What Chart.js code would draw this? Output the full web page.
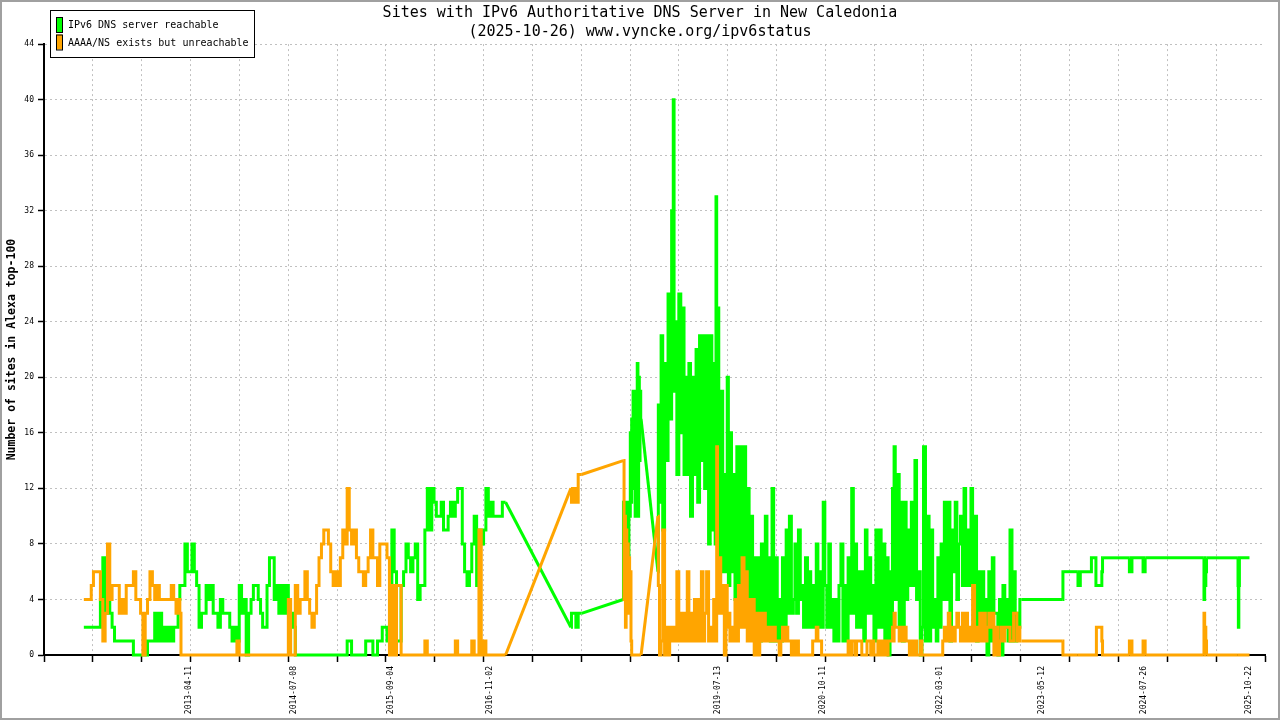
<!DOCTYPE html>
<html>
<head>
<meta charset="utf-8">
<title>Sites with IPv6 Authoritative DNS Server in New Caledonia</title>
<script src="https://cdn.jsdelivr.net/npm/chart.js@4.4.1/dist/chart.umd.min.js"></script>
<style>
  html, body { margin: 0; padding: 0; background: #fff; overflow: hidden; }
  canvas { display: block; }
</style>
</head>
<body>
<canvas id="c" width="1280" height="720"></canvas>
<script>
const MONO = '"DejaVu Sans Mono", "Liberation Mono", monospace';

const titleLines = [
  'Sites with IPv6 Authoritative DNS Server in New Caledonia',
  '(2025-10-26) www.vyncke.org/ipv6status'
];
const seriesNames = ['IPv6 DNS server reachable', 'AAAA/NS exists but unreachable'];
const yAxisTitle = 'Number of sites in Alexa top-100';
const xTickLabels = ['2013-04-11', '2014-07-08', '2015-09-04', '2016-11-02', '2019-07-13',
                     '2020-10-11', '2022-03-01', '2023-05-12', '2024-07-26', '2025-10-22'];
const yTicks = [0, 4, 8, 12, 16, 20, 24, 28, 32, 36, 40, 44];
const xRange = ['2011-07-27', '2026-01-01'];

const dates = [
  '2012-01-15','2012-01-21','2012-02-01','2012-02-11','2012-02-21','2012-03-01','2012-03-11','2012-03-21','2012-04-01','2012-04-11','2012-04-21','2012-05-01','2012-05-11','2012-05-21','2012-06-01','2012-06-11','2012-06-21',
  '2012-07-01','2012-07-11','2012-07-21','2012-08-01','2012-08-11','2012-08-21','2012-09-01','2012-09-11','2012-09-21','2012-10-01','2012-10-11','2012-10-21','2012-11-01','2012-11-11','2012-11-21','2012-12-01','2012-12-11','2012-12-21',
  '2013-01-01','2013-01-11','2013-01-21','2013-02-01','2013-02-11','2013-02-21','2013-03-01','2013-03-08','2013-03-11','2013-03-21','2013-04-01','2013-04-11','2013-04-21','2013-05-01','2013-05-11','2013-05-21','2013-06-01','2013-06-11','2013-06-21',
  '2013-07-01','2013-07-11','2013-07-21','2013-08-01','2013-08-11','2013-08-21','2013-09-01','2013-09-11','2013-09-21','2013-10-01','2013-10-11','2013-10-21','2013-11-01','2013-11-11','2013-11-21','2013-12-01','2013-12-11','2013-12-21',
  '2014-01-01','2014-01-11','2014-01-21','2014-02-01','2014-02-11','2014-02-21','2014-03-01','2014-03-11','2014-03-21','2014-04-01','2014-04-11','2014-04-21','2014-05-01','2014-05-11','2014-05-21','2014-06-01','2014-06-11','2014-06-21',
  '2014-07-01','2014-07-11','2014-07-21','2014-08-01','2014-08-11','2014-08-21','2014-09-01','2014-09-11','2014-09-21','2014-10-01','2014-10-11','2014-10-21','2014-11-01','2014-11-11','2014-11-21','2014-12-01','2014-12-11','2014-12-21',
  '2015-01-01','2015-01-11','2015-01-21','2015-02-01','2015-02-11','2015-02-21','2015-03-01','2015-03-11','2015-03-21','2015-04-01','2015-04-11','2015-04-21','2015-05-01','2015-05-11','2015-05-21','2015-06-01','2015-06-11','2015-06-21',
  '2015-07-01','2015-07-11','2015-07-21','2015-08-01','2015-08-11','2015-08-21','2015-09-01','2015-09-11','2015-09-21','2015-10-01','2015-10-11','2015-10-21','2015-11-01','2015-11-11','2015-11-21','2015-12-01','2015-12-11','2015-12-21',
  '2016-01-01','2016-01-11','2016-01-21','2016-02-01','2016-02-11','2016-02-21','2016-03-01','2016-03-11','2016-03-21','2016-04-01','2016-04-11','2016-04-21','2016-05-01','2016-05-11','2016-05-21','2016-06-01','2016-06-11','2016-06-21',
  '2016-07-01','2016-07-11','2016-07-21','2016-08-01','2016-08-11','2016-08-21','2016-09-01','2016-09-11','2016-09-21','2016-10-01','2016-10-11','2016-10-21','2016-11-01','2016-11-11','2016-11-21','2016-12-01','2016-12-11','2016-12-21','2016-12-31','2017-01-09',
  '2017-10-18','2017-10-23','2017-10-29','2017-11-05','2017-11-12','2017-11-17','2017-11-20','2017-12-03','2018-06-01',
  '2018-06-03','2018-06-06','2018-06-09','2018-06-12','2018-06-15','2018-06-18','2018-06-21','2018-06-24','2018-06-27','2018-06-30','2018-07-03','2018-07-06','2018-07-09','2018-07-12','2018-07-15','2018-07-18','2018-07-21','2018-07-24','2018-07-27','2018-07-30','2018-08-02','2018-08-05','2018-08-08','2018-08-11','2018-08-14','2018-08-17',
  '2018-10-29','2018-11-01','2018-11-08','2018-11-15','2018-11-22','2018-12-01','2018-12-08','2018-12-15','2018-12-22',
  '2019-01-01','2019-01-05','2019-01-08','2019-01-15','2019-01-22','2019-02-01','2019-02-08','2019-02-15','2019-02-22','2019-03-01','2019-03-08','2019-03-15','2019-03-22','2019-04-01','2019-04-08','2019-04-15','2019-04-22','2019-05-01','2019-05-08','2019-05-15','2019-05-22','2019-06-01','2019-06-08','2019-06-15','2019-06-22',
  '2019-07-01','2019-07-05','2019-07-08','2019-07-11','2019-07-15','2019-07-22','2019-08-01','2019-08-08','2019-08-15','2019-08-22','2019-08-26','2019-09-01','2019-09-08','2019-09-15','2019-09-22','2019-10-01','2019-10-08','2019-10-15','2019-10-22','2019-11-01','2019-11-08','2019-11-15','2019-11-22','2019-12-01','2019-12-08','2019-12-15','2019-12-22',
  '2020-01-01','2020-01-08','2020-01-15','2020-01-22','2020-02-01','2020-02-08','2020-02-15','2020-02-22','2020-03-01','2020-03-08','2020-03-15','2020-03-22','2020-04-01','2020-04-08','2020-04-15','2020-04-22','2020-05-01','2020-05-08','2020-05-15','2020-05-22','2020-06-01','2020-06-08','2020-06-15','2020-06-22',
  '2020-07-01','2020-07-08','2020-07-15','2020-07-22','2020-08-01','2020-08-08','2020-08-15','2020-08-22','2020-09-01','2020-09-08','2020-09-15','2020-09-22','2020-10-01','2020-10-08','2020-10-15','2020-10-22','2020-11-01','2020-11-08','2020-11-15','2020-11-22','2020-12-01','2020-12-08','2020-12-15','2020-12-22',
  '2021-01-01','2021-01-08','2021-01-15','2021-01-22','2021-02-01','2021-02-08','2021-02-15','2021-02-22','2021-03-01','2021-03-08','2021-03-15','2021-03-22','2021-04-01','2021-04-08','2021-04-15','2021-04-22','2021-05-01','2021-05-08','2021-05-15','2021-05-22','2021-06-01','2021-06-08','2021-06-15','2021-06-22',
  '2021-07-01','2021-07-08','2021-07-15','2021-07-22','2021-08-01','2021-08-05','2021-08-08','2021-08-12','2021-08-15','2021-08-22','2021-09-01','2021-09-08','2021-09-15','2021-09-22','2021-10-01','2021-10-08','2021-10-15','2021-10-22','2021-11-01','2021-11-08','2021-11-15','2021-11-22','2021-12-01','2021-12-08','2021-12-15','2021-12-22',
  '2022-01-01','2022-01-08','2022-01-15','2022-01-22','2022-02-01','2022-02-08','2022-02-15','2022-02-22','2022-03-01','2022-03-08','2022-03-15','2022-03-22','2022-04-01','2022-04-08','2022-04-15','2022-04-22','2022-05-01','2022-05-08','2022-05-15','2022-05-22','2022-06-01','2022-06-08','2022-06-15','2022-06-22',
  '2022-07-01','2022-07-08','2022-07-15','2022-07-22','2022-08-01','2022-08-08','2022-08-15','2022-08-22','2022-09-01','2022-09-08','2022-09-15','2022-09-22','2022-10-01','2022-10-08','2022-10-15','2022-10-22','2022-11-01','2022-11-08','2022-11-15','2022-11-22','2022-12-01','2022-12-08','2022-12-15','2022-12-22',
  '2023-01-01','2023-01-08','2023-01-15','2023-01-22','2023-01-29','2023-02-05','2023-02-10',
  '2023-02-14','2023-08-12','2023-08-13','2023-10-16','2023-10-17','2023-10-26','2023-10-27','2023-12-13','2023-12-14','2024-01-01',
  '2024-01-03','2024-01-05','2024-01-26','2024-01-29','2024-02-01','2024-05-25','2024-05-26','2024-06-05','2024-06-06','2024-07-23',
  '2024-07-24','2024-08-01','2024-08-02','2025-04-12','2025-04-13','2025-04-18','2025-04-23','2025-04-24','2025-09-06','2025-09-07',
  '2025-09-09','2025-09-11','2025-09-14','2025-10-26'
];

const reachable = [
  2,2,2,2,2,2,2,2,4,7,3,4,3,2,1,1,1,
  1,1,1,1,1,0,0,0,0,0,0,1,1,1,3,1,3,1,
  2,1,2,1,2,2,4,5,5,5,8,6,6,8,6,5,2,3,3,
  5,4,5,3,3,2,4,3,3,3,2,1,2,1,5,3,4,0,
  3,4,5,5,4,3,2,2,5,7,7,4,5,3,5,3,5,3,
  3,2,0,0,0,0,0,0,0,0,0,0,0,0,0,0,0,0,
  0,0,0,0,0,0,1,1,0,0,0,0,0,0,1,1,1,0,
  0,1,1,2,2,1,1,9,6,1,1,5,6,8,7,6,7,8,
  4,5,5,9,12,9,12,11,10,10,11,9,9,10,11,10,11,12,
  12,8,6,5,6,8,10,5,9,8,9,12,10,11,10,10,10,10,11,11,
  2,3,3,3,2,2,3,3,4,
  11,5,9,6,11,7,11,6,11,10,16,11,17,12,19,14,19,10,19,12,21,10,20,14,19,17,
  6,18,11,23,9,21,14,26,17,
  32,40,19,24,13,26,16,25,13,20,13,21,10,20,13,22,11,23,14,23,12,23,8,23,9,
  21,8,33,15,25,7,19,6,13,6,20,5,16,6,13,4,15,5,15,4,15,4,12,3,10,2,7,
  2,7,1,8,2,10,2,7,1,12,1,7,1,4,1,7,2,9,3,10,3,4,8,3,
  9,4,5,2,7,2,6,2,5,2,8,2,6,2,11,5,2,8,2,4,1,4,1,5,
  8,1,5,1,7,3,12,3,8,2,6,2,6,1,9,3,7,3,5,1,9,2,9,2,
  8,1,7,0,6,2,12,4,15,4,13,2,11,1,11,4,9,5,11,5,14,4,6,0,2,15,
  1,10,1,9,2,4,1,7,2,8,4,11,4,11,1,9,6,11,4,8,10,5,12,5,
  9,5,12,5,10,1,6,2,6,2,4,0,6,1,7,3,3,0,4,0,5,2,4,1,
  9,1,6,1,3,2,4,
  4,4,6,6,5,5,6,6,7,7,
  5,5,5,6,7,7,6,6,7,7,
  6,6,7,7,4,5,6,7,7,5,
  2,5,7,7
];

const unreachable = [
  4,4,4,4,5,6,6,6,4,1,3,8,4,5,5,5,3,
  4,3,5,5,5,6,4,4,3,0,3,4,6,5,4,5,4,4,
  4,4,4,5,4,3,4,3,0,0,0,0,0,0,0,0,0,0,0,
  0,0,0,0,0,0,0,0,0,0,0,0,0,1,0,0,0,0,
  0,0,0,0,0,0,0,0,0,0,0,0,0,0,0,0,0,4,
  0,0,5,3,4,4,6,4,3,2,3,5,7,8,9,9,8,6,
  5,6,5,7,9,8,12,9,8,9,7,6,6,5,6,7,9,7,
  7,5,8,8,8,7,0,5,0,5,5,0,0,0,0,0,0,0,
  0,0,0,1,0,0,0,0,0,0,0,0,0,0,0,0,1,0,
  0,0,0,0,0,1,0,0,9,0,1,0,0,0,0,0,0,0,0,0,
  12,11,12,11,12,11,13,13,14,
  14,4,10,2,9,3,8,3,7,4,6,1,0,0,0,0,0,0,0,0,0,0,0,0,0,0,
  10,5,0,1,9,0,2,0,2,
  1,2,1,1,6,1,3,1,3,1,6,1,3,1,4,1,4,1,6,1,3,6,1,2,1,
  4,1,1,15,3,7,3,5,0,5,2,3,1,2,1,4,1,5,2,7,2,6,1,4,1,4,0,
  3,0,3,1,3,1,2,1,2,1,2,1,1,0,1,2,1,2,1,1,0,1,0,1,
  0,0,0,0,0,0,0,0,1,1,2,1,1,0,0,0,0,0,0,0,0,0,0,0,
  0,0,0,0,1,0,1,1,0,1,1,1,0,0,0,1,1,0,1,0,0,1,0,1,
  0,1,0,1,1,1,2,1,3,2,2,1,2,1,2,1,1,0,1,0,1,0,0,1,0,0,
  0,0,0,0,0,0,0,0,0,0,1,2,1,3,1,2,1,2,3,2,1,3,1,3,
  1,2,1,5,1,2,1,3,1,3,1,2,3,2,3,0,2,0,1,2,1,2,2,2,
  1,1,3,3,1,2,1,
  1,1,0,0,0,0,0,0,0,0,
  0,2,2,1,0,0,1,1,0,0,
  1,1,0,0,3,2,1,0,0,0,
  0,0,0,0
];

const toDay = s => Date.UTC(+s.slice(0, 4), +s.slice(5, 7) - 1, +s.slice(8, 10)) / 864e5;
const X_MIN = toDay(xRange[0]);
const X_MAX = toDay(xRange[1]);
const GRID_DIVS = 25;
const GAP_DAYS = 60;
const CLEAR = 'rgba(0,0,0,0)';
const GRID = '#c0c0c0';
const GREEN = '#00ff00';
const ORANGE = '#ffa500';

const dayList = dates.map(toDay);
const isGap = (i0, i1) => dayList[i1] - dayList[i0] > GAP_DAYS;

const framePlugin = {
  id: 'frameAndLegend',
  beforeDraw(chart) {
    const c = chart.ctx;
    c.save();
    c.fillStyle = '#ffffff';
    c.fillRect(0, 0, chart.width, chart.height);
    c.restore();
  },
  afterDraw(chart) {
    const c = chart.ctx;
    c.save();
    c.fillStyle = '#ffffff';
    c.fillRect(50, 10, 204, 47);
    c.strokeStyle = '#000000';
    c.lineWidth = 1;
    c.strokeRect(50.5, 10.5, 204, 47);
    c.font = '10px ' + MONO;
    c.textBaseline = 'middle';
    c.textAlign = 'left';
    chart.data.datasets.filter(ds => !ds.connector).forEach((ds, i) => {
      const y = 17 + i * 17.5;
      c.fillStyle = ds.borderColor;
      c.fillRect(56, y, 6, 15);
      c.strokeStyle = '#000000';
      c.strokeRect(56.5, y + 0.5, 6, 15);
      c.fillStyle = '#000000';
      c.fillText(ds.label, 68, y + 8.5);
    });
    c.strokeStyle = '#a0a0a0';
    c.lineWidth = 2;
    c.strokeRect(1, 1, chart.width - 2, chart.height - 2);
    c.restore();
  }
};

const mk = (vals) => dates.map((d, i) => ({ x: dayList[i], y: vals[i] }));

function series(label, vals, color, order) {
  return [
    {
      label, data: mk(vals), borderColor: color, backgroundColor: color,
      borderWidth: 3, pointRadius: 0, stepped: 'middle', borderJoinStyle: 'miter',
      clip: false, order: order + 1, parsing: false,
      segment: { borderColor: ctx => isGap(ctx.p0DataIndex, ctx.p1DataIndex) ? CLEAR : undefined }
    },
    {
      label: label + ' (gap)', connector: true, data: mk(vals), borderColor: color, backgroundColor: color,
      borderWidth: 3, pointRadius: 0, tension: 0, borderJoinStyle: 'round',
      clip: false, order: order, parsing: false,
      segment: { borderColor: ctx => isGap(ctx.p0DataIndex, ctx.p1DataIndex) ? undefined : CLEAR }
    }
  ];
}

new Chart(document.getElementById('c'), {
  type: 'line',
  data: {
    datasets: [
      ...series(seriesNames[0], reachable, GREEN, 2),
      ...series(seriesNames[1], unreachable, ORANGE, 0)
    ]
  },
  options: {
    responsive: false,
    animation: false,
    events: [],
    layout: { padding: { left: 0, right: 0, top: 0, bottom: 0 } },
    plugins: {
      legend: { display: false },
      tooltip: { enabled: false },
      title: {
        display: true,
        text: titleLines,
        color: '#000000',
        font: { family: MONO, size: 15, weight: 'normal', lineHeight: 1.27 },
        padding: { top: 4, bottom: 2 }
      }
    },
    scales: {
      x: {
        type: 'linear',
        position: 'bottom',
        min: X_MIN,
        max: X_MAX,
        afterBuildTicks(scale) {
          const step = (X_MAX - X_MIN) / GRID_DIVS;
          const t = [];
          for (let i = 0; i <= GRID_DIVS; i++) t.push({ value: X_MIN + i * step, lbl: null, edge: i === GRID_DIVS });
          xTickLabels.forEach(s => t.push({ value: toDay(s), lbl: s }));
          t.sort((a, b) => a.value - b.value);
          scale.ticks = t;
        },
        afterFit(scale) { scale.height = 65; },
        ticks: {
          autoSkip: false,
          minRotation: 90,
          maxRotation: 90,
          padding: 4,
          color: '#000000',
          font: { family: MONO, size: 8 },
          callback(value, index, ticks) { return ticks[index] && ticks[index].lbl ? ticks[index].lbl : ''; }
        },
        grid: {
          color: ctx => (ctx.tick && (ctx.tick.lbl || ctx.tick.edge)) ? CLEAR : GRID,
          tickColor: ctx => (ctx.tick && ctx.tick.lbl) ? CLEAR : '#000000',
          lineWidth: 1,
          tickLength: 7,
          tickWidth: 1.5
        },
        border: { display: true, color: '#000000', width: 2, dash: [2, 3] }
      },
      y: {
        min: 0,
        max: 44,
        afterBuildTicks(scale) { scale.ticks = yTicks.map(v => ({ value: v })); },
        afterFit(scale) { scale.width = 44; },
        ticks: {
          color: '#000000',
          font: { family: MONO, size: 8 },
          padding: 4
        },
        grid: {
          color: GRID,
          tickColor: '#000000',
          lineWidth: 1,
          tickLength: 6,
          tickWidth: 1.5
        },
        border: { display: true, color: '#000000', width: 2, dash: [2, 3] },
        title: {
          display: true,
          text: yAxisTitle,
          color: '#000000',
          font: { family: MONO, size: 11.5, weight: 'bold' },
          padding: { top: 5, bottom: 0 }
        }
      },
      yRight: {
        position: 'right',
        display: true,
        min: 0,
        max: 1,
        afterFit(scale) { scale.width = 15; },
        ticks: { display: false },
        grid: { display: false, drawTicks: false },
        border: { display: false },
        title: { display: false }
      }
    }
  },
  plugins: [framePlugin]
});
</script>
</body>
</html>
